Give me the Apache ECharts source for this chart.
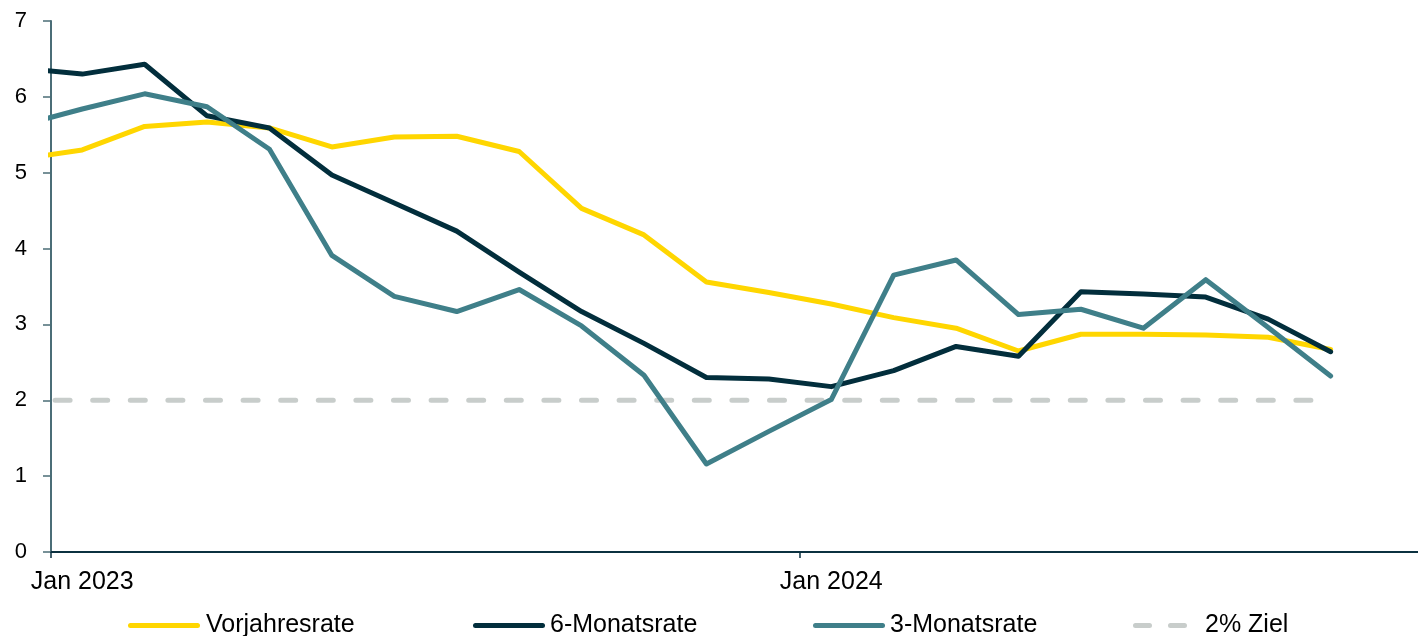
<!DOCTYPE html>
<html lang="de">
<head>
	<meta charset="utf-8">
	<title>Inflationsraten</title>
	<script src="https://cdn.jsdelivr.net/npm/echarts@6/dist/echarts.min.js"></script>
	<style type="text/css">
		html, body {
			margin: 0;
			padding: 0;
			background: #fff;
		}
		#chart {
			width: 1418px;
			height: 636px;
		}
	</style>
</head>
<body>
	<div id="chart"></div>
	<script type="text/javascript">
		// Monate (Dez 2022 liegt links ausserhalb der Achse und wird abgeschnitten)
		var months = ['Dez 2022',
			'Jan 2023', 'Feb 2023', 'Mrz 2023', 'Apr 2023', 'Mai 2023', 'Jun 2023',
			'Jul 2023', 'Aug 2023', 'Sep 2023', 'Okt 2023', 'Nov 2023', 'Dez 2023',
			'Jan 2024', 'Feb 2024', 'Mrz 2024', 'Apr 2024', 'Mai 2024', 'Jun 2024',
			'Jul 2024', 'Aug 2024', 'Sep 2024'];
		var axisLabels = ['Jan 2023', 'Jan 2024'];
		var yTicks = [0, 1, 2, 3, 4, 5, 6, 7];

		var vorjahresrate = [5.18, 5.30, 5.61, 5.67, 5.59, 5.34, 5.47, 5.48, 5.28, 4.53, 4.18, 3.56, 3.42,
			3.27, 3.09, 2.95, 2.65, 2.87, 2.87, 2.86, 2.83, 2.67];
		var sechsMonatsrate = [6.38, 6.30, 6.43, 5.75, 5.59, 4.97, 4.60, 4.23, 3.69, 3.17, 2.75, 2.30, 2.28,
			2.18, 2.39, 2.71, 2.58, 3.43, 3.40, 3.36, 3.07, 2.64];
		var dreiMonatsrate = [5.62, 5.84, 6.04, 5.87, 5.31, 3.91, 3.37, 3.17, 3.46, 2.98, 2.33, 1.16, 1.59,
			2.01, 3.65, 3.85, 3.13, 3.20, 2.95, 3.59, 2.96, 2.32];
		var ziel = [2, 2, 2, 2, 2, 2, 2, 2, 2, 2, 2, 2, 2,
			2, 2, 2, 2, 2, 2, 2, 2, 2];

		function toPoints(values) {
			return values.map(function(v, i) { return [i, v]; });
		}

		var labelIdx = axisLabels.map(function(l) { return months.indexOf(l); });
		var tickIdx = labelIdx.map(function(i) { return i - 0.5; });

		var font = 'Liberation Sans, Arial, sans-serif';

		// Legendensymbole: Linie mit runden Enden bzw. zwei Striche
		var solidIcon = 'path://M2.5,0h67a2.5,2.5,0,0,1,0,5h-67a2.5,2.5,0,0,1,0,-5z';
		var dashIcon = 'path://M2.5,0h14a2.5,2.5,0,0,1,0,5h-14a2.5,2.5,0,0,1,0,-5z' +
			'M37.5,0h14a2.5,2.5,0,0,1,0,5h-14a2.5,2.5,0,0,1,0,-5z';

		function makeLegend(name, left, icon, w, extra) {
			return {
				data: [{ name: name, icon: icon }],
				left: left,
				top: 613,
				itemWidth: w,
				itemHeight: 5,
				padding: 0,
				textStyle: {
					fontFamily: font,
					fontSize: 25,
					color: '#000',
					padding: [0, 0, 0, extra]
				}
			};
		}

		var chart = echarts.init(document.getElementById('chart'));
		var option = {
			animation: false,
			grid: {
				left: 51,
				right: 0,
				top: 21,
				bottom: 84,
				containLabel: false
			},
			legend: [
				makeLegend('Vorjahresrate', 128, solidIcon, 72, 1),
				makeLegend('6-Monatsrate', 473, solidIcon, 72, 0),
				makeLegend('3-Monatsrate', 813, solidIcon, 72, 0),
				makeLegend('2% Ziel', 1133, dashIcon, 54, 13)
			],
			xAxis: {
				type: 'value',
				min: 0.5,
				max: 22.4,
				axisLine: {
					show: true,
					onZero: false,
					lineStyle: { color: '#0B3140', width: 2 }
				},
				axisTick: {
					show: true,
					length: 6,
					customValues: tickIdx,
					lineStyle: { color: '#0B3140', width: 1.5 }
				},
				axisLabel: {
					customValues: labelIdx,
					formatter: function(v) { return months[Math.round(v)]; },
					margin: 18,
					fontFamily: font,
					fontSize: 25,
					color: '#000'
				},
				splitLine: { show: false }
			},
			yAxis: {
				type: 'value',
				min: yTicks[0],
				max: yTicks[yTicks.length - 1],
				interval: 1,
				axisLine: {
					show: true,
					lineStyle: { color: '#4B6D77', width: 2 }
				},
				axisTick: {
					show: true,
					length: 8,
					lineStyle: { color: '#4B6D77', width: 1.5 }
				},
				axisLabel: {
					margin: 24,
					fontFamily: font,
					fontSize: 22,
					color: '#000'
				},
				splitLine: { show: false }
			},
			series: [
				{
					name: '2% Ziel',
					type: 'line',
					data: toPoints(ziel),
					symbol: 'none',
					z: 1,
					lineStyle: {
						color: '#C8CDCB',
						width: 5,
						type: [15, 22.6],
						dashOffset: 2.3,
						cap: 'round'
					},
					itemStyle: { color: '#C8CDCB' }
				},
				{
					name: 'Vorjahresrate',
					type: 'line',
					data: toPoints(vorjahresrate),
					symbol: 'none',
					z: 2,
					lineStyle: { color: '#FFD600', width: 5, cap: 'round', join: 'round' },
					itemStyle: { color: '#FFD600' }
				},
				{
					name: '6-Monatsrate',
					type: 'line',
					data: toPoints(sechsMonatsrate),
					symbol: 'none',
					z: 3,
					lineStyle: { color: '#022E3C', width: 5, cap: 'round', join: 'round' },
					itemStyle: { color: '#022E3C' }
				},
				{
					name: '3-Monatsrate',
					type: 'line',
					data: toPoints(dreiMonatsrate),
					symbol: 'none',
					z: 4,
					lineStyle: { color: '#3F7F89', width: 5, cap: 'round', join: 'round' },
					itemStyle: { color: '#3F7F89' }
				}
			]
		};
		chart.setOption(option);

		window.onresize = function() {
			chart.resize();
		};
	</script>
</body>
</html>
